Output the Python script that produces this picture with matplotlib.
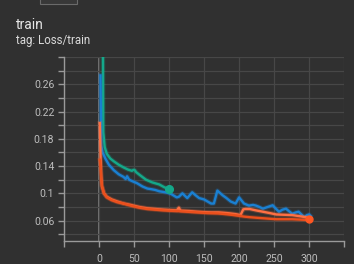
import numpy as np
import matplotlib
matplotlib.use('Agg')
import matplotlib.pyplot as plt
from matplotlib.patches import Rectangle

# run data (step, loss)
teal_steps = [5, 6, 8, 11, 16, 21, 28, 35, 41, 47, 49, 51, 53, 58, 67, 76, 86, 93, 100]
teal_vals = [0.45, 0.19, 0.168, 0.158, 0.151, 0.147, 0.142, 0.138, 0.135, 0.133, 0.1345, 0.134, 0.131,
             0.127, 0.12, 0.116, 0.113, 0.109, 0.106]

blue_steps = [2, 3, 5, 9, 14, 21, 28, 35, 38, 40, 43, 47, 54, 62, 69, 75, 80, 86, 92, 97, 103, 111,
              114, 119, 126, 133, 138, 143, 150, 155, 160, 164, 169, 176, 182, 188, 195, 200, 207,
              214, 220, 224, 229, 234, 241, 248, 252, 257, 262, 267, 271, 276, 281, 285, 289, 293,
              297, 300, 302]
blue_vals = [0.273, 0.17, 0.16, 0.151, 0.142, 0.134, 0.128, 0.124, 0.121, 0.125, 0.12, 0.118, 0.115,
             0.11, 0.107, 0.106, 0.105, 0.103, 0.102, 0.101, 0.099, 0.094, 0.095, 0.1, 0.093, 0.1015,
             0.097, 0.093, 0.091, 0.088, 0.085, 0.085, 0.104, 0.0975, 0.093, 0.088, 0.085, 0.094,
             0.085, 0.082, 0.083, 0.082, 0.08, 0.0775, 0.08, 0.0825, 0.078, 0.073, 0.076, 0.0775,
             0.074, 0.07, 0.072, 0.073, 0.069, 0.065, 0.068, 0.069, 0.067]

orange_steps = [1, 2, 3, 4, 7, 11, 18, 26, 35, 45, 57, 69, 80, 92, 100, 111, 114, 116, 118, 129, 140,
                148, 160, 171, 183, 195, 202, 206, 209, 215, 224, 234, 244, 253, 265, 276, 286, 295, 300]
orange_vals = [0.203, 0.16, 0.125, 0.11, 0.1, 0.095, 0.091, 0.088, 0.085, 0.083, 0.08, 0.078, 0.077,
               0.076, 0.0755, 0.075, 0.079, 0.075, 0.0745, 0.074, 0.073, 0.0725, 0.072, 0.072, 0.071,
               0.0695, 0.068, 0.0765, 0.077, 0.077, 0.075, 0.073, 0.071, 0.069, 0.0685, 0.068, 0.0665,
               0.065, 0.064]

red_steps = [1, 2, 3, 4, 7, 11, 18, 26, 35, 45, 57, 69, 80, 92, 100, 111, 125, 140, 155, 170, 185,
             200, 206, 215, 227, 240, 253, 265, 276, 286, 295, 300]
red_vals = [0.149, 0.14, 0.125, 0.112, 0.1, 0.094, 0.09, 0.087, 0.085, 0.082, 0.079, 0.077, 0.076,
            0.075, 0.0745, 0.074, 0.073, 0.072, 0.071, 0.0705, 0.069, 0.067, 0.066, 0.065, 0.064,
            0.063, 0.062, 0.062, 0.062, 0.0615, 0.061, 0.0625]

x_ticks = [-50, 0, 50, 100, 150, 200, 250, 300, 350]
x_labels = ['', '0', '50', '100', '150', '200', '250', '300', '']
y_major = [0.06, 0.10, 0.14, 0.18, 0.22, 0.26, 0.30]
y_labels = ['0.06', '0.1', '0.14', '0.18', '0.22', '0.26', '']
y_minor = [0.04, 0.08, 0.12, 0.16, 0.20, 0.24, 0.28]

bg = '#303030'
txt = '#bdbdbd'
plt.rcParams['font.family'] = ['Roboto', 'DejaVu Sans']

fig = plt.figure(figsize=(3.54, 2.64), dpi=100, facecolor=bg)
ax = fig.add_axes([0.181, 0.087, 0.791, 0.697], facecolor=bg)

# title block
fig.text(16 / 354, 1 - 29 / 264, 'train', color='#e6e6e6', fontsize=10, ha='left', va='baseline')
fig.text(16 / 354, 1 - 44 / 264, 'tag: Loss/train', color='#dadada', fontsize=8.3, ha='left', va='baseline')
fig.patches.append(Rectangle((40 / 354, 1 - 4 / 264), 37 / 354, 6 / 264, transform=fig.transFigure,
                             facecolor='#383838', edgecolor='#6a6a6a', linewidth=0.8))

ax.set_xlim(-50, 350)
ax.set_ylim(0.03, 0.30)
ax.set_xticks(x_ticks)
ax.set_xticklabels(x_labels)
ax.set_yticks(y_major)
ax.set_yticklabels(y_labels)
ax.set_yticks(y_minor, minor=True)

ax.grid(True, which='both', color='#474747', linewidth=0.9)
ax.axvline(0, color='#8a8a8a', linewidth=1.1, zorder=1)
for s in ['top', 'right']:
    ax.spines[s].set_visible(False)
for s in ['left', 'bottom']:
    ax.spines[s].set_color('#9a9a9a')
    ax.spines[s].set_linewidth(1)
ax.tick_params(which='both', colors='#9a9a9a', labelcolor=txt, labelsize=7.6, length=4, width=1, pad=3)
ax.tick_params(axis='x', pad=5)

lw = 1.7
series = [(teal_steps, teal_vals, '#14a88a', 3),
          (blue_steps, blue_vals, '#1a80d2', 3),
          (orange_steps, orange_vals, '#ff7043', 4),
          (red_steps, red_vals, '#ea4f1c', 4)]
for xs, ys, c, z in series:
    # faint halo like the raw (unsmoothed) trace
    ax.plot(xs, ys, color=c, lw=3.2, alpha=0.25, zorder=z, solid_joinstyle='round')
    ax.plot(xs, ys, color=c, lw=lw, zorder=z, solid_joinstyle='round')
ax.plot(teal_steps[-1], teal_vals[-1], 'o', color='#14a88a', ms=5.5, zorder=5)
ax.plot(red_steps[-1], red_vals[-1], 'o', color='#ff5722', ms=5, zorder=5)

fig.savefig('out.png', dpi=100, facecolor=bg)
